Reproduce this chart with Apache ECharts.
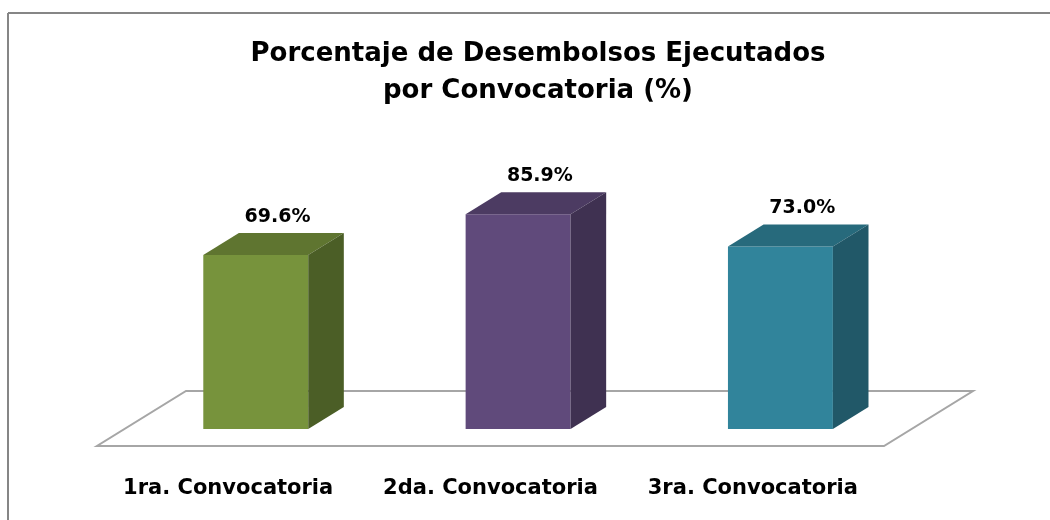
<!DOCTYPE html>
<html>
<head>
<meta charset="utf-8" />
<title>Desembolsos</title>
<script src="https://cdn.jsdelivr.net/npm/echarts@6/dist/echarts.min.js"></script>
<style>
  body { margin: 0; background: #fff; }
  #chart { width: 1050px; height: 520px; }
</style>
</head>
<body>
<div id="chart"></div>
<script>
var categories = ['1ra. Convocatoria', '2da. Convocatoria', '3ra. Convocatoria'];
var values = [69.6, 85.9, 73.0];
var frontColors = ['#77933C', '#604A7B', '#31849B'];
var topColors = ['#5F7530', '#4C3B62', '#276A7C'];
var sideColors = ['#4B5E26', '#3F3151', '#215868'];

// depth of the floor, bars sit between 0.31 and 0.71 of it
var depth = [89, -55];
var barStart = 0.31, barEnd = 0.71;
var fontName = '"DejaVu Sans", Verdana, sans-serif';

var chart = echarts.init(document.getElementById('chart'));

function renderFloor(params, api) {
  var cs = params.coordSys;
  var x = cs.x, y = cs.y + cs.height, w = cs.width;
  return {
    type: 'polygon',
    shape: { points: [[x, y], [x + w, y], [x + w + depth[0], y + depth[1]], [x + depth[0], y + depth[1]]] },
    style: { fill: '#fff', stroke: '#a6a6a6', lineWidth: 2 }
  };
}

function renderBar(params, api) {
  var i = api.value(0);
  var base = api.coord([i, 0]);
  var top = api.coord([i, api.value(1)]);
  var bw = api.size([1, 0])[0] * 0.4;
  var ox = depth[0] * barStart, oy = depth[1] * barStart;
  var dx = depth[0] * (barEnd - barStart), dy = depth[1] * (barEnd - barStart);
  var x0 = base[0] - bw / 2 + ox, x1 = x0 + bw;
  var yb = base[1] + oy, yt = top[1] + oy;
  return {
    type: 'group',
    children: [
      { type: 'rect', shape: { x: x0, y: yt, width: bw, height: yb - yt }, style: { fill: frontColors[i] } },
      { type: 'polygon', shape: { points: [[x0, yt], [x1, yt], [x1 + dx, yt + dy], [x0 + dx, yt + dy]] }, style: { fill: topColors[i] } },
      { type: 'polygon', shape: { points: [[x1, yt], [x1 + dx, yt + dy], [x1 + dx, yb + dy], [x1, yb]] }, style: { fill: sideColors[i] } },
      {
        type: 'text',
        x: (x0 + x1 + dx) / 2 + 4, y: yt + dy - 16,
        style: {
          text: api.value(1).toFixed(1) + '%',
          fill: '#000', font: 'bold 19px ' + fontName,
          align: 'center', verticalAlign: 'middle'
        }
      }
    ]
  };
}

option = {
  backgroundColor: '#fff',
  animation: false,
  title: {
    text: 'Porcentaje de Desembolsos Ejecutados\npor Convocatoria (%)',
    left: 533,
    textAlign: 'center',
    top: 31,
    textStyle: { fontFamily: fontName, fontWeight: 'bold', fontSize: 26, lineHeight: 37, color: '#000' }
  },
  graphic: [
    { type: 'line', shape: { x1: 8, y1: 13, x2: 1050, y2: 13 }, style: { stroke: '#868686', lineWidth: 2 } },
    { type: 'line', shape: { x1: 8, y1: 13, x2: 8, y2: 520 }, style: { stroke: '#868686', lineWidth: 2 } }
  ],
  grid: { left: 97, right: 166, top: 196, bottom: 74 },
  xAxis: {
    type: 'category',
    data: categories,
    axisLine: { show: false },
    axisTick: { show: false },
    axisLabel: { interval: 0, margin: 32, color: '#000', fontFamily: fontName, fontWeight: 'bold', fontSize: 21 }
  },
  yAxis: { type: 'value', min: 0, max: 100, show: false },
  series: [
    { type: 'custom', renderItem: renderFloor, data: [[0, 0]], silent: true },
    {
      type: 'custom',
      renderItem: renderBar,
      data: values.map(function (v, i) { return [i, v]; })
    }
  ]
};
chart.setOption(option);
</script>
</body>
</html>
